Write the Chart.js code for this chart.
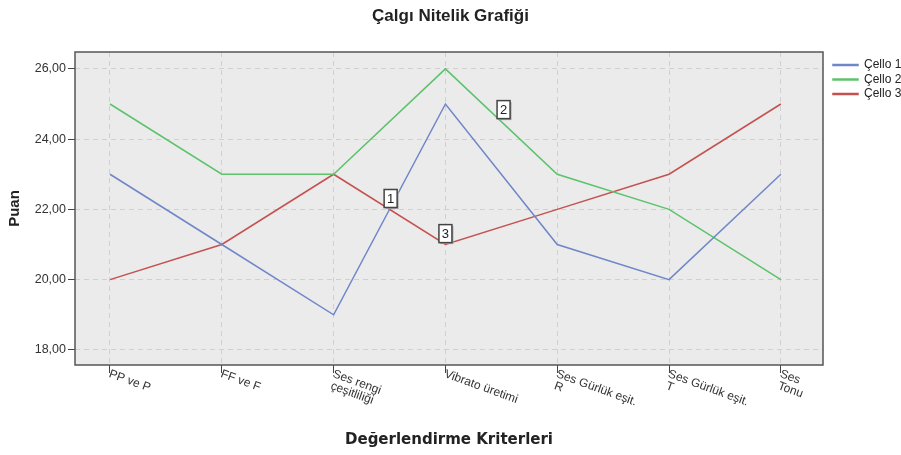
<!DOCTYPE html>
<html><head><meta charset="utf-8">
<script src="https://cdn.jsdelivr.net/npm/chart.js@4"></script>
<style>html,body{margin:0;padding:0;background:#fff}</style>
</head><body>
<canvas id="c" width="901" height="455"></canvas>
<script>
const categories = [["PP ve P"],["FF ve F"],["Ses rengi","çeşitliliği"],["Vibrato üretimi"],["Ses Gürlük eşit.","R"],["Ses Gürlük eşit.","T"],["Ses","Tonu"]];
const cello1 = [23,21,19,25,21,20,23];
const cello2 = [25,23,23,26,23,22,20];
const cello3 = [20,21,23,21,22,23,25];
const seriesNames = ["Çello 1","Çello 2","Çello 3"];
const seriesColors = ["#6f86c9","#5cc36c","#c4514f"];
const yTicks = [18,20,22,24,26];
const markerText = ["1","2","3"];
const markerX = [2.51,3.52,3.0];
const markerY = [22.31,24.84,21.31];

const FONT = "'Liberation Sans', Arial, sans-serif";
const toPts = arr => arr.map((v,i)=>({x:i,y:v}));
const allSeries = [cello1,cello2,cello3];

const bgPlugin = {
  id:'bg',
  beforeDraw(chart){
    const {ctx, chartArea:a} = chart;
    ctx.save(); ctx.fillStyle='#ebebeb';
    ctx.fillRect(a.left,a.top,a.right-a.left,a.bottom-a.top); ctx.restore();
  },
  afterDraw(chart){
    const {ctx, chartArea:a, scales} = chart;
    ctx.save();
    ctx.strokeStyle='#555'; ctx.lineWidth=1.5;
    ctx.strokeRect(a.left,a.top,a.right-a.left,a.bottom-a.top);
    // x category labels, rotated clockwise
    ctx.fillStyle='#333'; ctx.font='12px '+FONT; ctx.textAlign='left'; ctx.textBaseline='top';
    const ang = 20*Math.PI/180;
    categories.forEach((lines,i)=>{
      const x = scales.x.getPixelForValue(i);
      lines.forEach((t,k)=>{
        ctx.save(); ctx.translate(x+1.5-2*k, a.bottom+3+12*k); ctx.rotate(ang);
        ctx.fillText(t,0,0);
        ctx.restore();
      });
    });
    // line markers
    markerText.forEach((t,i)=>{
      const px = scales.x.getPixelForValue(markerX[i]);
      const py = scales.y.getPixelForValue(markerY[i]);
      const w=13,h=18;
      ctx.fillStyle='#aaa'; ctx.fillRect(px-w/2+1.5,py-h/2+1.5,w,h);
      ctx.fillStyle='#fff'; ctx.fillRect(px-w/2,py-h/2,w,h);
      ctx.strokeStyle='#444'; ctx.lineWidth=1.5; ctx.strokeRect(px-w/2,py-h/2,w,h);
      ctx.fillStyle='#222'; ctx.font='13px '+FONT; ctx.textAlign='center'; ctx.textBaseline='middle';
      ctx.fillText(t,px,py+1);
    });
    ctx.restore();
  }
};

new Chart(document.getElementById('c'), {
  type:'line',
  data:{
    datasets: allSeries.map((s,i)=>({
      label: seriesNames[i], data: toPts(s), borderColor: seriesColors[i], backgroundColor: seriesColors[i],
      borderWidth:1.5, pointRadius:0, pointHoverRadius:0, tension:0, fill:false
    }))
  },
  options:{
    responsive:false, animation:false, devicePixelRatio:1,
    layout:{padding:0},
    plugins:{
      title:{display:true, text:'Çalgı Nitelik Grafiği', color:'#222', font:{family:FONT,size:17,weight:'bold'}, padding:{top:6,bottom:25.6}},
      legend:{display:true, position:'right', align:'start', maxWidth:70.5,
        title:{display:true, text:'', font:{size:1}, padding:{top:0,bottom:55.3}},
        labels:{boxWidth:25, boxHeight:1, padding:2.5, color:'#222', font:{family:FONT,size:12}}},
      tooltip:{enabled:false}
    },
    scales:{
      x:{type:'linear', min:-0.313, max:6.377,
        afterBuildTicks(s){ s.ticks = categories.map((_,i)=>({value:i})); },
        afterFit(s){ s.height = 90; },
        ticks:{display:false},
        grid:{color:'#d0d0d0', lineWidth:1, tickColor:'#444', tickLength:8, tickBorderDash:[], drawTicks:true},
        border:{display:false, dash:[5,4]},
        title:{display:true, text:'Değerlendirme Kriterleri', color:'#222', font:{family:"'DejaVu Sans', sans-serif",size:15,weight:'bold'}, padding:{top:4,bottom:6}}
      },
      y:{type:'linear', position:'left', min:17.57, max:26.48,
        afterBuildTicks(s){ s.ticks = yTicks.map(v=>({value:v})); },
        afterFit(s){ s.width = 75; },
        ticks:{color:'#333', font:{family:FONT,size:12.5}, padding:2, callback:v=>v.toFixed(2).replace('.',',')},
        grid:{color:'#d0d0d0', lineWidth:1, tickColor:'#444', tickLength:7, tickBorderDash:[], drawTicks:true},
        border:{display:false, dash:[5,4]},
        title:{display:true, text:'Puan', color:'#222', font:{family:FONT,size:15,weight:'bold'}, padding:{top:6,bottom:0}}
      },
      yr:{type:'linear', position:'right', display:true,
        afterFit(s){ s.width = 7.5; },
        ticks:{display:false}, grid:{display:false, drawTicks:false}, border:{display:false}
      }
    }
  },
  plugins:[bgPlugin]
});
</script>
</body></html>
